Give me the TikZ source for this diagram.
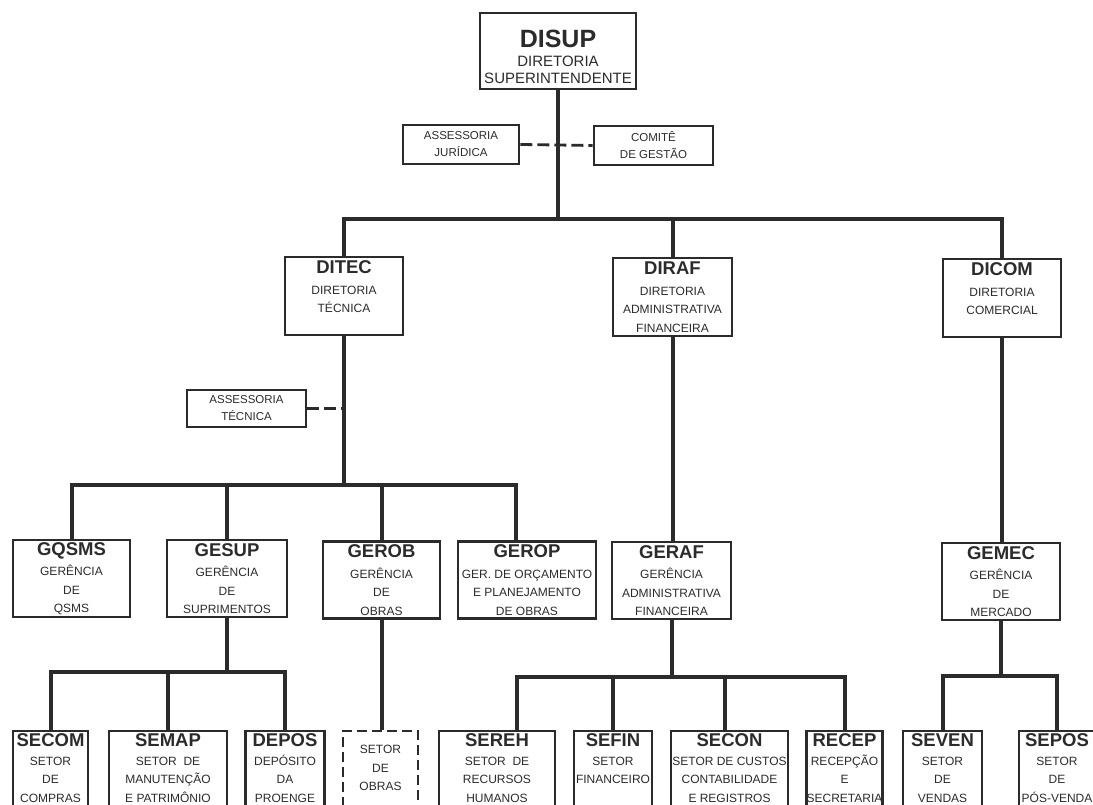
\documentclass[tikz,border=0pt]{standalone}
\usepackage{fontspec}
\setmainfont{Liberation Sans}
\definecolor{ink}{HTML}{2B2B2B}
\newcommand{\ttl}[1]{{\fontsize{18.5}{20}\selectfont\bfseries #1}}

\begin{document}
\begin{tikzpicture}[x=1pt, y=-1pt,
  box/.style={draw=ink, line width=2.6pt, inner sep=0pt, align=center,
    text=ink, font=\fontsize{12}{18.5}\selectfont},
  smallbox/.style={box, font=\fontsize{11.5}{17}\selectfont},
  lowbox/.style={box, minimum height=84pt,
    execute at end node={\rule[-10pt]{0pt}{0pt}}},
  conn/.style={draw=ink, line width=4pt},
  dashlink/.style={draw=ink, line width=2.8pt, dash pattern=on 12pt off 5pt}]
  \useasboundingbox (0,0) rectangle (1093,805);
  \clip (0,0) rectangle (1093,805);
  % Top
  \node[box, minimum width=156pt, minimum height=76pt,
    font=\fontsize{15}{16.5}\selectfont] (disup) at (558,51)
    {{\fontsize{25}{26}\selectfont\bfseries\rule{0pt}{29.4pt}DISUP}\\[2.5pt]
     DIRETORIA\\ SUPERINTENDENTE};
  \node[smallbox, minimum width=116pt, minimum height=39pt] (assjur) at (461,144.5)
    {ASSESSORIA\\ JURÍDICA};
  \node[smallbox, minimum width=119pt, minimum height=39pt] (comite) at (653.5,145.5)
    {COMITÊ\\ DE GESTÃO};
  % Diretorias
  \node[box, minimum width=118pt, minimum height=78pt] (ditec) at (344,296)
    {\ttl{DITEC}\\[2pt] DIRETORIA\\ TÉCNICA\\ ~};
  \node[box, minimum width=119pt, minimum height=78pt] (diraf) at (672.5,297)
    {\ttl{DIRAF}\\[2pt] DIRETORIA\\ ADMINISTRATIVA\\ FINANCEIRA};
  \node[box, minimum width=118pt, minimum height=78pt] (dicom) at (1002,298)
    {\ttl{DICOM}\\[2pt] DIRETORIA\\ COMERCIAL\\ ~};
  \node[smallbox, minimum width=119pt, minimum height=37pt] (asstec) at (246.5,408.5)
    {ASSESSORIA\\ TÉCNICA};
  % Gerencias
  \node[box, minimum width=117pt, minimum height=77pt] (gqsms) at (71.5,578.5)
    {\ttl{GQSMS}\\[2pt] GERÊNCIA\\ DE\\ QSMS};
  \node[box, minimum width=120pt, minimum height=77pt] (gesup) at (227,578.5)
    {\ttl{GESUP}\\[2pt] GERÊNCIA\\ DE\\ SUPRIMENTOS};
  \node[box, minimum width=117pt, minimum height=77pt] (gerob) at (381.5,580)
    {\ttl{GEROB}\\[2pt] GERÊNCIA\\ DE\\ OBRAS};
  \node[box, minimum width=138pt, minimum height=77pt] (gerop) at (527,580)
    {\ttl{GEROP}\\[2pt] GER. DE ORÇAMENTO\\ E PLANEJAMENTO\\ DE OBRAS};
  \node[box, minimum width=119pt, minimum height=77pt] (geraf) at (671.5,580.5)
    {\ttl{GERAF}\\[2pt] GERÊNCIA\\ ADMINISTRATIVA\\ FINANCEIRA};
  \node[box, minimum width=118pt, minimum height=77pt] (gemec) at (1001,581.5)
    {\ttl{GEMEC}\\[2pt] GERÊNCIA\\ DE\\ MERCADO};
  % Setores
  \node[lowbox, minimum width=75pt] (secom) at (50.5,773)
    {\ttl{SECOM}\\ SETOR\\ DE\\ COMPRAS};
  \node[lowbox, minimum width=118pt] (semap) at (168,773)
    {\ttl{SEMAP}\\ SETOR~~DE\\ MANUTENÇÃO\\ E PATRIMÔNIO};
  \node[lowbox, minimum width=79pt] (depos) at (285,773)
    {\ttl{DEPOS}\\ DEPÓSITO\\ DA\\ PROENGE};
  \node[lowbox, minimum width=75pt, dash pattern=on 10pt off 5pt] (setobr) at (380.5,773)
    {SETOR\\ DE\\ OBRAS};
  \node[lowbox, minimum width=116pt] (sereh) at (497,773)
    {\ttl{SEREH}\\ SETOR~~DE\\ RECURSOS\\ HUMANOS};
  \node[lowbox, minimum width=78pt] (sefin) at (613,773)
    {\ttl{SEFIN}\\ SETOR\\ FINANCEIRO\\ ~};
  \node[lowbox, minimum width=117pt] (secon) at (729.5,773)
    {\ttl{SECON}\\ SETOR DE CUSTOS\\ CONTABILIDADE\\ E REGISTROS};
  \node[lowbox, minimum width=75pt] (recep) at (844.5,773)
    {\ttl{RECEP}\\ RECEPÇÃO\\ E\\ SECRETARIA};
  \node[lowbox, minimum width=79pt] (seven) at (942.5,773)
    {\ttl{SEVEN}\\ SETOR\\ DE\\ VENDAS};
  \node[lowbox, minimum width=76pt] (sepos) at (1057,773)
    {\ttl{SEPOS}\\ SETOR\\ DE\\ PÓS-VENDA};
  % Bus lines
  \coordinate (b1) at (0,219);
  \coordinate (b2) at (0,485);
  \coordinate (b3) at (0,672);
  \coordinate (b4) at (0,677);
  \coordinate (b5) at (0,676);
  \draw[conn] (disup.south) -- (disup.south |- b1);
  \draw[conn] (ditec.north) |- (dicom.north |- b1) -- (dicom.north);
  \draw[conn] (diraf.north) -- (diraf.north |- b1);
  \draw[dashlink] (assjur.east) -- (comite.west);
  % DITEC
  \draw[conn] (ditec.south) -- (ditec.south |- b2);
  \draw[dashlink] (asstec.east) -- (asstec.east -| ditec.south);
  \draw[conn] (gqsms.north) |- ([xshift=-11pt]gerop.north |- b2)
    -- ([xshift=-11pt]gerop.north);
  \draw[conn] (gesup.north) -- (gesup.north |- b2);
  \draw[conn] (gerob.north) -- (gerob.north |- b2);
  % DIRAF, DICOM
  \draw[conn] (diraf.south) -- (diraf.south |- geraf.north);
  \draw[conn] (dicom.south) -- (dicom.south |- gemec.north);
  % GESUP
  \draw[conn] (gesup.south) -- (gesup.south |- b3);
  \draw[conn] (secom.north) |- (depos.north |- b3) -- (depos.north);
  \draw[conn] (semap.north) -- (semap.north |- b3);
  % GEROB
  \draw[conn] (gerob.south) -- (gerob.south |- setobr.north);
  % GERAF
  \draw[conn] (geraf.south) -- (geraf.south |- b4);
  \draw[conn] ([xshift=20pt]sereh.north) |- (recep.north |- b4) -- (recep.north);
  \draw[conn] (sefin.north) -- (sefin.north |- b4);
  \draw[conn] ([xshift=-4.5pt]secon.north) -- ([xshift=-4.5pt]secon.north |- b4);
  % GEMEC
  \draw[conn] (gemec.south) -- (gemec.south |- b5);
  \draw[conn] (seven.north) |- (sepos.north |- b5) -- (sepos.north);
\end{tikzpicture}
\end{document}
